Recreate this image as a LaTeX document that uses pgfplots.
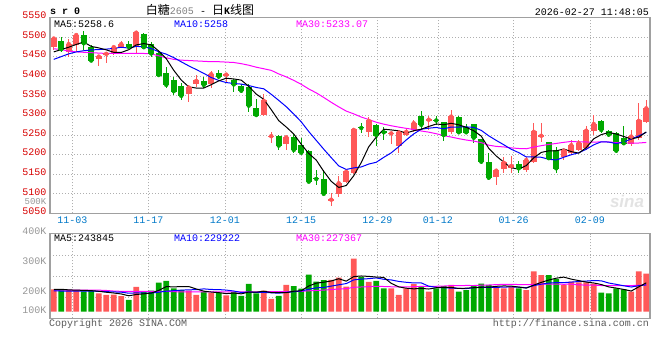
\documentclass[border=0pt]{standalone}
\usepackage{pgfplots}
\pgfplotsset{compat=1.18}
\usepackage{pgfplotstable}
\usepackage{fontspec}
\setmainfont{Liberation Mono}
\newfontfamily\cjk{Noto Sans CJK SC}
\newfontfamily\sansf{Liberation Sans}
\definecolor{kred}{RGB}{255,88,88}
\definecolor{kgreen}{RGB}{0,168,0}
\definecolor{ma10c}{RGB}{0,0,255}
\definecolor{ma30c}{RGB}{255,0,255}
\definecolor{ticklab}{RGB}{214,0,0}
\definecolor{datelab}{RGB}{0,120,200}
\definecolor{gridc}{RGB}{175,175,175}
\definecolor{framec}{RGB}{160,160,160}
\definecolor{vollab}{RGB}{150,150,150}
\definecolor{footc}{RGB}{90,90,90}

\pgfplotstableread{
i o h l c v
0 5475 5501 5467 5496 212
1 5491 5501 5463 5469 209
2 5462 5495 5449 5482 209
3 5480 5508 5462 5505 207
4 5504 5516 5468 5484 205
5 5474 5480 5435 5440 207
6 5444 5452 5425 5450 198
7 5455 5459 5434 5457 193
8 5458 5477 5454 5474 194
9 5475 5490 5472 5482 189
10 5482 5491 5469 5475 176
11 5477 5515 5458 5511 220
12 5508 5509 5470 5474 204
13 5481 5488 5450 5458 207
14 5458 5462 5400 5403 234
15 5407 5424 5369 5378 240
16 5390 5399 5352 5362 215
17 5375 5382 5339 5350 210
18 5355 5378 5335 5371 207
19 5379 5403 5373 5388 193
20 5389 5399 5370 5378 203
21 5380 5414 5371 5405 200
22 5409 5417 5392 5399 200
23 5402 5404 5384 5404 191
24 5390 5393 5359 5379 202
25 5376 5379 5358 5363 190
26 5373 5379 5308 5325 230
27 5320 5342 5297 5301 198
28 5301 5354 5299 5337 207
29 5245 5258 5230 5247 180
30 5247 5249 5212 5223 190
31 5227 5245 5212 5244 227
32 5246 5252 5205 5212 223
33 5225 5242 5200 5205 214
34 5210 5212 5128 5131 261
35 5140 5161 5122 5138 238
36 5138 5161 5097 5100 243
37 5083 5101 5069 5085 244
38 5100 5145 5093 5127 251
39 5131 5157 5128 5156 221
40 5154 5264 5150 5263 315
41 5270 5280 5256 5268 253
42 5258 5297 5244 5286 237
43 5276 5277 5223 5250 240
44 5259 5270 5237 5257 215
45 5252 5255 5226 5254 215
46 5222 5263 5203 5256 193
47 5250 5267 5247 5258 215
48 5263 5288 5258 5280 229
49 5299 5310 5263 5276 223
50 5287 5299 5263 5289 204
51 5289 5299 5275 5287 215
52 5282 5284 5235 5250 223
53 5258 5314 5252 5297 227
54 5297 5299 5255 5257 204
55 5271 5277 5254 5257 209
56 5277 5278 5229 5243 223
57 5240 5241 5175 5182 231
58 5180 5203 5135 5141 227
59 5142 5160 5122 5159 220
60 5163 5195 5152 5179 215
61 5165 5196 5152 5171 220
62 5176 5184 5152 5165 215
63 5161 5194 5155 5186 209
64 5182 5280 5178 5258 272
65 5246 5281 5233 5248 260
66 5231 5233 5185 5191 260
67 5213 5220 5154 5165 246
68 5195 5212 5187 5210 227
69 5203 5237 5200 5224 238
70 5212 5237 5208 5229 235
71 5216 5273 5213 5261 235
72 5261 5301 5250 5278 231
73 5287 5289 5256 5263 201
74 5259 5262 5245 5251 198
75 5256 5258 5205 5210 215
76 5242 5273 5225 5229 212
77 5226 5263 5222 5246 204
78 5242 5331 5237 5286 272
79 5284 5339 5280 5318 265
}\kdata

\pgfplotstableread{
i ma5 ma10 ma30
0 5462 5443 5470
1 5468 5450 5468
2 5474 5457 5464
3 5481 5462 5462
4 5487.2 5465 5461
5 5476.0 5467 5460
6 5472.2 5468 5459
7 5467.2 5469 5458
8 5461.0 5471 5458
9 5460.6 5473.9 5458
10 5467.6 5471.8 5458
11 5479.8 5476.0 5458
12 5483.2 5475.2 5458
13 5480.0 5470.5 5457
14 5464.2 5462.4 5452
15 5444.8 5456.2 5447
16 5415.0 5447.4 5443
17 5390.2 5436.7 5441
18 5372.8 5426.4 5440
19 5369.8 5417.0 5439
20 5369.8 5407.3 5438
21 5378.4 5396.7 5437
22 5388.2 5389.2 5437
23 5394.8 5383.8 5436
24 5393.0 5381.4 5435
25 5390.0 5379.9 5432
26 5374.0 5376.2 5428
27 5354.4 5371.3 5423
28 5341.0 5367.9 5419
29 5314.6 5353.8 5414.9
30 5286.6 5338.3 5405.8
31 5270.4 5322.2 5398.3
32 5252.6 5303.5 5389.3
33 5226.2 5283.6 5379.3
34 5203.0 5258.8 5367.5
35 5186.0 5236.3 5357.5
36 5157.2 5213.8 5345.8
37 5131.8 5192.2 5333.4
38 5116.2 5171.2 5321.8
39 5121.2 5162.1 5311.0
40 5146.2 5166.1 5303.9
41 5179.8 5168.5 5295.8
42 5220.0 5175.9 5289.5
43 5244.6 5180.4 5282.6
44 5264.8 5193.0 5277.7
45 5263.0 5204.6 5273.6
46 5260.6 5220.2 5270.1
47 5255.0 5237.5 5267.0
48 5261.0 5252.8 5264.0
49 5264.8 5264.8 5260.2
50 5271.8 5267.4 5257.3
51 5278.0 5269.3 5253.3
52 5276.4 5265.7 5248.4
53 5279.8 5270.4 5244.8
54 5276.0 5270.4 5240.7
55 5269.6 5270.7 5237.2
56 5260.8 5269.4 5234.5
57 5247.2 5261.8 5230.5
58 5216.0 5247.9 5224.0
59 5196.4 5236.2 5221.0
60 5180.8 5225.2 5219.6
61 5166.4 5213.6 5217.1
62 5163.0 5205.1 5215.6
63 5172.0 5194.0 5214.9
64 5191.8 5194.1 5219.2
65 5205.6 5193.2 5222.8
66 5209.6 5188.0 5225.9
67 5209.6 5186.3 5228.5
68 5214.4 5193.2 5231.3
69 5207.6 5199.7 5233.6
70 5203.8 5204.7 5232.4
71 5217.8 5213.7 5232.2
72 5240.4 5225.0 5231.9
73 5251.0 5232.7 5232.4
74 5256.4 5232.0 5232.2
75 5252.6 5228.2 5230.7
76 5246.2 5232.0 5229.8
77 5239.8 5240.1 5229.4
78 5244.4 5247.7 5229.6
79 5257.8 5257.1 5231.0
}\pma

\pgfplotstableread{
i ma5 ma10 ma30
0 212 207 209
1 212 206 209
2 210 206 209
3 209 206 209
4 208.4 206 209
5 207.4 206 209
6 205.2 205 209
7 202.0 204 208
8 199.4 203 206
9 196.2 202.3 205
10 190.0 198.7 205
11 194.4 199.8 205
12 196.6 199.3 205
13 199.2 199.3 205
14 208.2 202.2 205
15 221.0 205.5 205
16 220.0 207.2 204
17 221.2 208.9 203
18 221.2 210.2 203
19 213.0 210.6 203
20 205.6 213.3 203
21 202.6 211.3 203
22 200.6 210.9 203
23 197.4 209.3 203
24 199.2 206.1 203
25 196.6 201.1 203
26 202.6 202.6 203
27 202.2 201.4 203
28 205.4 201.4 203.5
29 201.0 200.1 204.3
30 201.0 198.8 203.6
31 200.4 201.5 204.2
32 205.4 203.8 204.7
33 206.8 206.1 204.9
34 223.0 212.0 206.8
35 232.6 216.8 207.8
36 235.8 218.1 209.3
37 240.0 222.7 211.0
38 247.4 227.1 212.9
39 239.4 231.2 214.0
40 254.8 243.7 218.6
41 256.8 246.3 219.7
42 255.4 247.7 220.8
43 253.2 250.3 221.9
44 252.0 245.7 221.3
45 232.0 243.4 220.4
46 220.0 238.4 219.7
47 215.6 235.5 219.9
48 213.4 233.3 220.6
49 215.0 233.5 221.6
50 212.8 222.4 221.6
51 217.2 218.6 222.1
52 218.8 217.2 222.9
53 218.4 215.9 224.1
54 214.6 214.8 224.2
55 215.6 214.2 224.8
56 217.2 217.2 224.6
57 218.8 218.8 225.7
58 218.8 218.6 226.3
59 222.0 218.3 227.7
60 223.2 219.4 228.5
61 222.6 219.9 228.3
62 219.4 219.1 228.0
63 215.8 217.3 227.8
64 226.2 224.1 228.2
65 235.2 229.2 228.9
66 243.2 232.9 229.5
67 249.4 234.4 229.6
68 253.0 234.4 228.8
69 246.2 236.2 229.3
70 241.2 238.2 226.7
71 236.2 239.7 226.1
72 233.2 241.3 225.9
73 228.0 240.5 224.6
74 220.0 233.1 224.0
75 216.0 228.6 224.0
76 211.4 223.8 224.6
77 206.0 219.6 224.3
78 220.2 224.1 225.7
79 233.6 226.8 227.1
}\vma

\begin{document}
\begin{tikzpicture}[x=1pt,y=1pt]
\fontsize{10}{12}\selectfont
\path[use as bounding box] (0,0) rectangle (660,-360);
\pgfplotsset{
  kbase/.style={scale only axis, width=600pt, xmin=-0.5, xmax=79.5,
    xtick={2.47,12.62,22.83,32.98,43.14,51.22,61.33,71.49},
    major tick length=0pt, minor tick num=0,
    grid=major, grid style={gridc, dash pattern=on 1pt off 2pt, line width=0.8pt},
    axis line style={framec, line width=1.2pt},
    /pgf/number format/assume math mode=true,
    tick label style={font=\fontsize{10}{12}\selectfont},
  },
}
% ---------- price panel ----------
\begin{axis}[kbase, at={(50pt,-17.4pt)}, anchor=north west, height=196pt,
  ymin=5050, ymax=5550,
  ytick={5050,5100,5150,5200,5250,5300,5350,5400,5450,5500,5550},
  yticklabels={5050,5100,5150,5200,5250,5300,5350,5400,5450,5500,5550},
  yticklabel style={color=ticklab, yshift=2pt},
  xticklabels={11-03,11-17,12-01,12-15,12-29,01-12,01-26,02-09},
  xticklabel style={color=datelab},
  clip=true]
% wicks
\addplot[kred, only marks, mark=none, restrict expr to domain={\thisrow{c}-\thisrow{o}}{0:10000},
  error bars/.cd, y dir=both, y explicit, error mark=none, error bar style={line width=1pt, kred}]
  table[x=i, y=c, y error plus expr=\thisrow{h}-\thisrow{c}, y error minus expr=\thisrow{c}-\thisrow{l}] {\kdata};
\addplot[kgreen, only marks, mark=none, restrict expr to domain={\thisrow{c}-\thisrow{o}}{-10000:-0.01},
  error bars/.cd, y dir=both, y explicit, error mark=none, error bar style={line width=1pt, kgreen}]
  table[x=i, y=c, y error plus expr=\thisrow{h}-\thisrow{c}, y error minus expr=\thisrow{c}-\thisrow{l}] {\kdata};
% bodies
\addplot[kred, only marks, mark=-, mark size=2.9pt, mark options={line width=1pt, kred},
  restrict expr to domain={\thisrow{c}-\thisrow{o}}{0:10000},
  error bars/.cd, y dir=minus, y explicit, error mark=none, error bar style={line width=5.8pt, kred}]
  table[x=i, y=c, y error minus expr=\thisrow{c}-\thisrow{o}] {\kdata};
\addplot[kgreen, only marks, mark=-, mark size=2.9pt, mark options={line width=1pt, kgreen},
  restrict expr to domain={\thisrow{c}-\thisrow{o}}{-10000:-0.01},
  error bars/.cd, y dir=plus, y explicit, error mark=none, error bar style={line width=5.8pt, kgreen}]
  table[x=i, y=c, y error plus expr=\thisrow{o}-\thisrow{c}] {\kdata};
% moving averages
\addplot[ma30c, line width=1pt, mark=none] table[x=i, y=ma30] {\pma};
\addplot[ma10c, line width=1pt, mark=none] table[x=i, y=ma10] {\pma};
\addplot[black, line width=1pt, mark=none] table[x=i, y=ma5] {\pma};
\end{axis}
% ---------- volume frame ----------
\begin{axis}[kbase, at={(50pt,-233.5pt)}, anchor=north west, height=84.8pt,
  ymin=114, ymax=400,
  ytick={184.8,255.6,326.5}, yticklabels={,,},
  xticklabels={,,,,,,,},
  extra y ticks={200,300,400},
  extra y tick labels={200K,300K,400K},
  extra y tick style={grid=none, yticklabel style={color=vollab, yshift=2pt}}]
\end{axis}
% ---------- volume bars ----------
\begin{axis}[at={(50pt,-233.5pt)}, anchor=north west, scale only axis, width=600pt, height=78pt,
  xmin=-0.5, xmax=79.5, ymin=137, ymax=400, hide axis, clip=true]
\addplot[ybar, bar width=5.8pt, bar shift=0pt, fill=kred, draw=none,
  restrict expr to domain={\thisrow{c}-\thisrow{o}}{0:10000}] table[x=i, y=v] {\kdata};
\addplot[ybar, bar width=5.8pt, bar shift=0pt, fill=kgreen, draw=none,
  restrict expr to domain={\thisrow{c}-\thisrow{o}}{-10000:-0.01}] table[x=i, y=v] {\kdata};
\addplot[ma30c, line width=1pt, mark=none] table[x=i, y=ma30] {\vma};
\addplot[ma10c, line width=1pt, mark=none] table[x=i, y=ma10] {\vma};
\addplot[black, line width=1pt, mark=none] table[x=i, y=ma5] {\vma};
\end{axis}
% ---------- texts ----------
\tikzset{lab/.style={inner sep=0pt}}
\node[lab, anchor=west, font=\bfseries\fontsize{10}{12}\selectfont] at (50,-11.5) {s r 0};
\node[lab, anchor=center] at (200,-10) {{\cjk\fontsize{12}{14}\selectfont 白糖}{\color{gray}2605} - {\cjk\fontsize{12}{14}\selectfont 日}{\bfseries K}{\cjk\fontsize{12}{14}\selectfont 线图}};
\node[lab, anchor=east] at (649,-12.5) {2026-02-27 11:48:05};
\node[lab, anchor=west] at (54,-24) {MA5:5258.6};
\node[lab, anchor=west, text=ma10c] at (174,-24) {MA10:5258};
\node[lab, anchor=west, text=ma30c] at (296,-24) {MA30:5233.07};
\node[lab, anchor=west] at (54,-238.5) {MA5:243845};
\node[lab, anchor=west, text=ma10c] at (174,-238.5) {MA10:229222};
\node[lab, anchor=west, text=ma30c] at (296,-238.5) {MA30:227367};
\node[lab, anchor=east, text=vollab, font=\fontsize{9}{10}\selectfont] at (46.5,-201.5) {500K};
\node[lab, anchor=east, text=vollab] at (46.5,-310) {100K};
\node[lab, anchor=west, text=footc] at (49,-324) {Copyright 2026 SINA.COM};
\node[lab, anchor=east, text=footc] at (649,-324) {http://finance.sina.com.cn};
\node[lab, anchor=center, text=gray!22, font=\sansf\bfseries\itshape\fontsize{17}{17}\selectfont] at (627,-201) {sina};
\end{tikzpicture}
\end{document}
